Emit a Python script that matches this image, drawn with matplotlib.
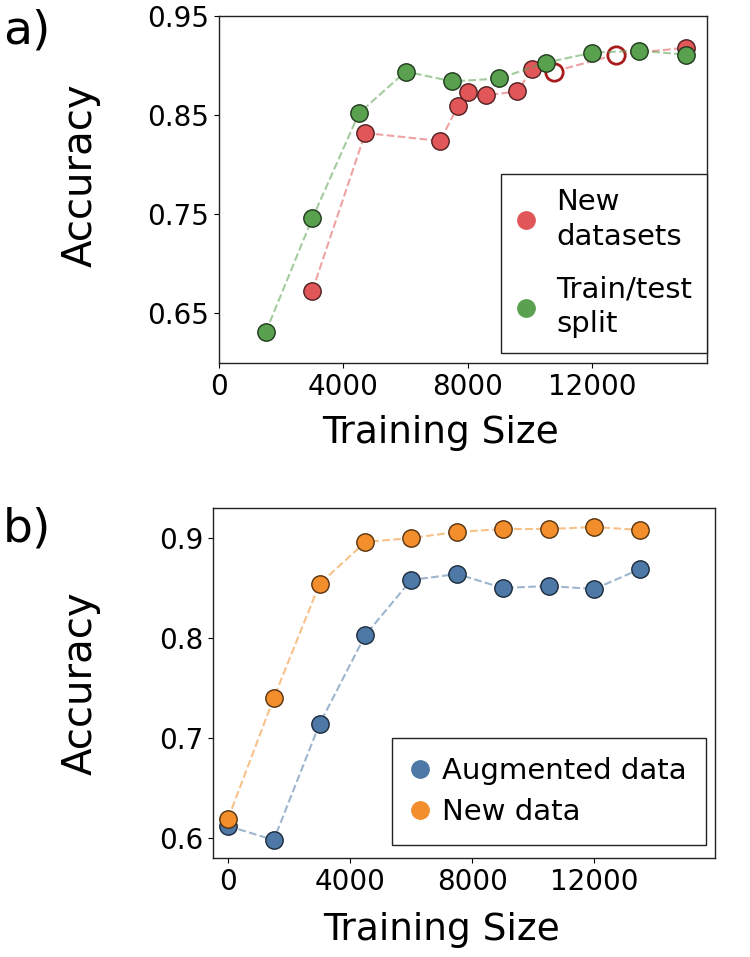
import matplotlib
matplotlib.use("Agg")
import matplotlib.pyplot as plt
from matplotlib.lines import Line2D
import numpy as np

# ---- Data: panel a ----
new_x = [3000, 4700, 7100, 7680, 8010, 8580, 9590, 10070, 10760, 12750, 15020]
new_y = [0.673, 0.832, 0.824, 0.859, 0.873, 0.870, 0.874, 0.897, 0.894, 0.911, 0.918]
new_hollow = [False, False, False, False, False, False, False, False, True, True, False]

split_x = [1500, 3000, 4500, 6000, 7500, 9000, 10500, 12000, 13500, 15000]
split_y = [0.631, 0.746, 0.852, 0.894, 0.884, 0.887, 0.903, 0.913, 0.915, 0.911]

# ---- Data: panel b ----
b_x = [0, 1500, 3000, 4500, 6000, 7500, 9000, 10500, 12000, 13500]
aug_y = [0.612, 0.598, 0.714, 0.803, 0.858, 0.864, 0.850, 0.852, 0.849, 0.869]
newdata_y = [0.619, 0.740, 0.854, 0.896, 0.900, 0.906, 0.909, 0.909, 0.911, 0.908]

a_xticks = [0, 4000, 8000, 12000]
a_yticks = [0.65, 0.75, 0.85, 0.95]
b_xticks = [0, 4000, 8000, 12000]
b_yticks = [0.6, 0.7, 0.8, 0.9]

RED = '#e15759'
GREEN = '#59a14f'
BLUE = '#4e79a7'
ORANGE = '#f28e2b'

def dark(c, f=0.35):
    r, g, b = matplotlib.colors.to_rgb(c)
    return (r * f, g * f, b * f)

plt.rcParams['font.family'] = ['DejaVu Sans']

fig = plt.figure(figsize=(7.5, 9.57), dpi=100)
W, H = 750, 957

def add_axes_px(l, t, r, b):
    return fig.add_axes([l / W, 1 - b / H, (r - l) / W, (b - t) / H])

ax1 = add_axes_px(219, 16, 707, 363)
ax2 = add_axes_px(213, 508, 715, 858)

MS = 12.5
TICKFS = 20
YLABELFS = 29
XLABELFS = 27
LEGFS = 21

# Panel a
ax1.plot(new_x, new_y, linestyle='--', color=RED, alpha=0.55, lw=1.5, zorder=1)
for x, y, h in zip(new_x, new_y, new_hollow):
    if h:
        ax1.plot(x, y, 'o', ms=MS, mfc='white', mec='#a81c1c', mew=2.0, zorder=2)
    else:
        ax1.plot(x, y, 'o', ms=MS, mfc=RED, mec=dark(RED), mew=1.0, zorder=2)
ax1.plot(split_x, split_y, linestyle='--', color=GREEN, alpha=0.55, lw=1.5, zorder=3)
ax1.plot(split_x, split_y, 'o', ms=MS, mfc=GREEN, mec=dark(GREEN), mew=1.0, ls='none', zorder=4)

ax1.set_xlim(0, 15680)
ax1.set_ylim(0.60, 0.95)
ax1.set_xticks(a_xticks)
ax1.set_xticklabels([str(v) for v in a_xticks])
ax1.set_yticks(a_yticks)
ax1.set_yticklabels(['%.2f' % v for v in a_yticks])
ax1.tick_params(labelsize=TICKFS)
ax1.set_ylabel('Accuracy', fontsize=YLABELFS)
ax1.set_xlabel('Training Size', fontsize=XLABELFS)
ax1.yaxis.set_label_coords(-0.242, 0.54)
ax1.xaxis.set_label_coords(0.4545, -0.15)

h1 = [Line2D([], [], marker='o', ls='none', color=RED, mec=RED, ms=MS),
      Line2D([], [], marker='o', ls='none', color=GREEN, mec=GREEN, ms=MS)]
leg1 = ax1.legend(h1, ['New\ndatasets', 'Train/test\nsplit'], loc='lower right',
                  bbox_to_anchor=(1.0, 10 / 347), borderaxespad=0.0,
                  fontsize=LEGFS, fancybox=False, framealpha=1, edgecolor='#222222',
                  handlelength=0.7, handletextpad=0.7, labelspacing=0.86,
                  borderpad=0.5)
for t in leg1.get_texts():
    t.set_linespacing(1.3)
leg1.get_frame().set_linewidth(1.0)

# Panel b
ax2.plot(b_x, aug_y, linestyle='--', color=BLUE, alpha=0.55, lw=1.5, zorder=1)
ax2.plot(b_x, aug_y, 'o', ms=MS, mfc=BLUE, mec=dark(BLUE), mew=1.0, ls='none', zorder=2)
ax2.plot(b_x, newdata_y, linestyle='--', color=ORANGE, alpha=0.55, lw=1.5, zorder=3)
ax2.plot(b_x, newdata_y, 'o', ms=MS, mfc=ORANGE, mec=dark(ORANGE), mew=1.0, ls='none', zorder=4)

ax2.set_xlim(-490, 15950)
ax2.set_ylim(0.58, 0.93)
ax2.set_xticks(b_xticks)
ax2.set_xticklabels([str(v) for v in b_xticks])
ax2.set_yticks(b_yticks)
ax2.set_yticklabels(['%.1f' % v for v in b_yticks])
ax2.tick_params(labelsize=TICKFS)
ax2.set_ylabel('Accuracy', fontsize=YLABELFS)
ax2.set_xlabel('Training Size', fontsize=XLABELFS)
ax2.yaxis.set_label_coords(-0.223, 0.5)
ax2.xaxis.set_label_coords(0.4545, -0.155)

h2 = [Line2D([], [], marker='o', ls='none', color=BLUE, mec=BLUE, ms=MS),
      Line2D([], [], marker='o', ls='none', color=ORANGE, mec=ORANGE, ms=MS)]
leg2 = ax2.legend(h2, ['Augmented data', 'New data'], loc='lower right',
                  bbox_to_anchor=((706 - 213) / 502, (858 - 845) / 350), borderaxespad=0.0,
                  fontsize=LEGFS, fancybox=False, framealpha=1, edgecolor='#222222',
                  handlelength=0.57, handletextpad=0.5, labelspacing=0.45,
                  borderpad=0.65)
leg2.get_frame().set_linewidth(1.0)

for ax in (ax1, ax2):
    for s in ax.spines.values():
        s.set_linewidth(1.0)
        s.set_color('#222222')

fig.text(3 / W, 1 - 44 / H, 'a)', fontsize=34, ha='left', va='baseline')
fig.text(3 / W, 1 - 542 / H, 'b)', fontsize=34, ha='left', va='baseline')

fig.savefig('out.png', dpi=100)
